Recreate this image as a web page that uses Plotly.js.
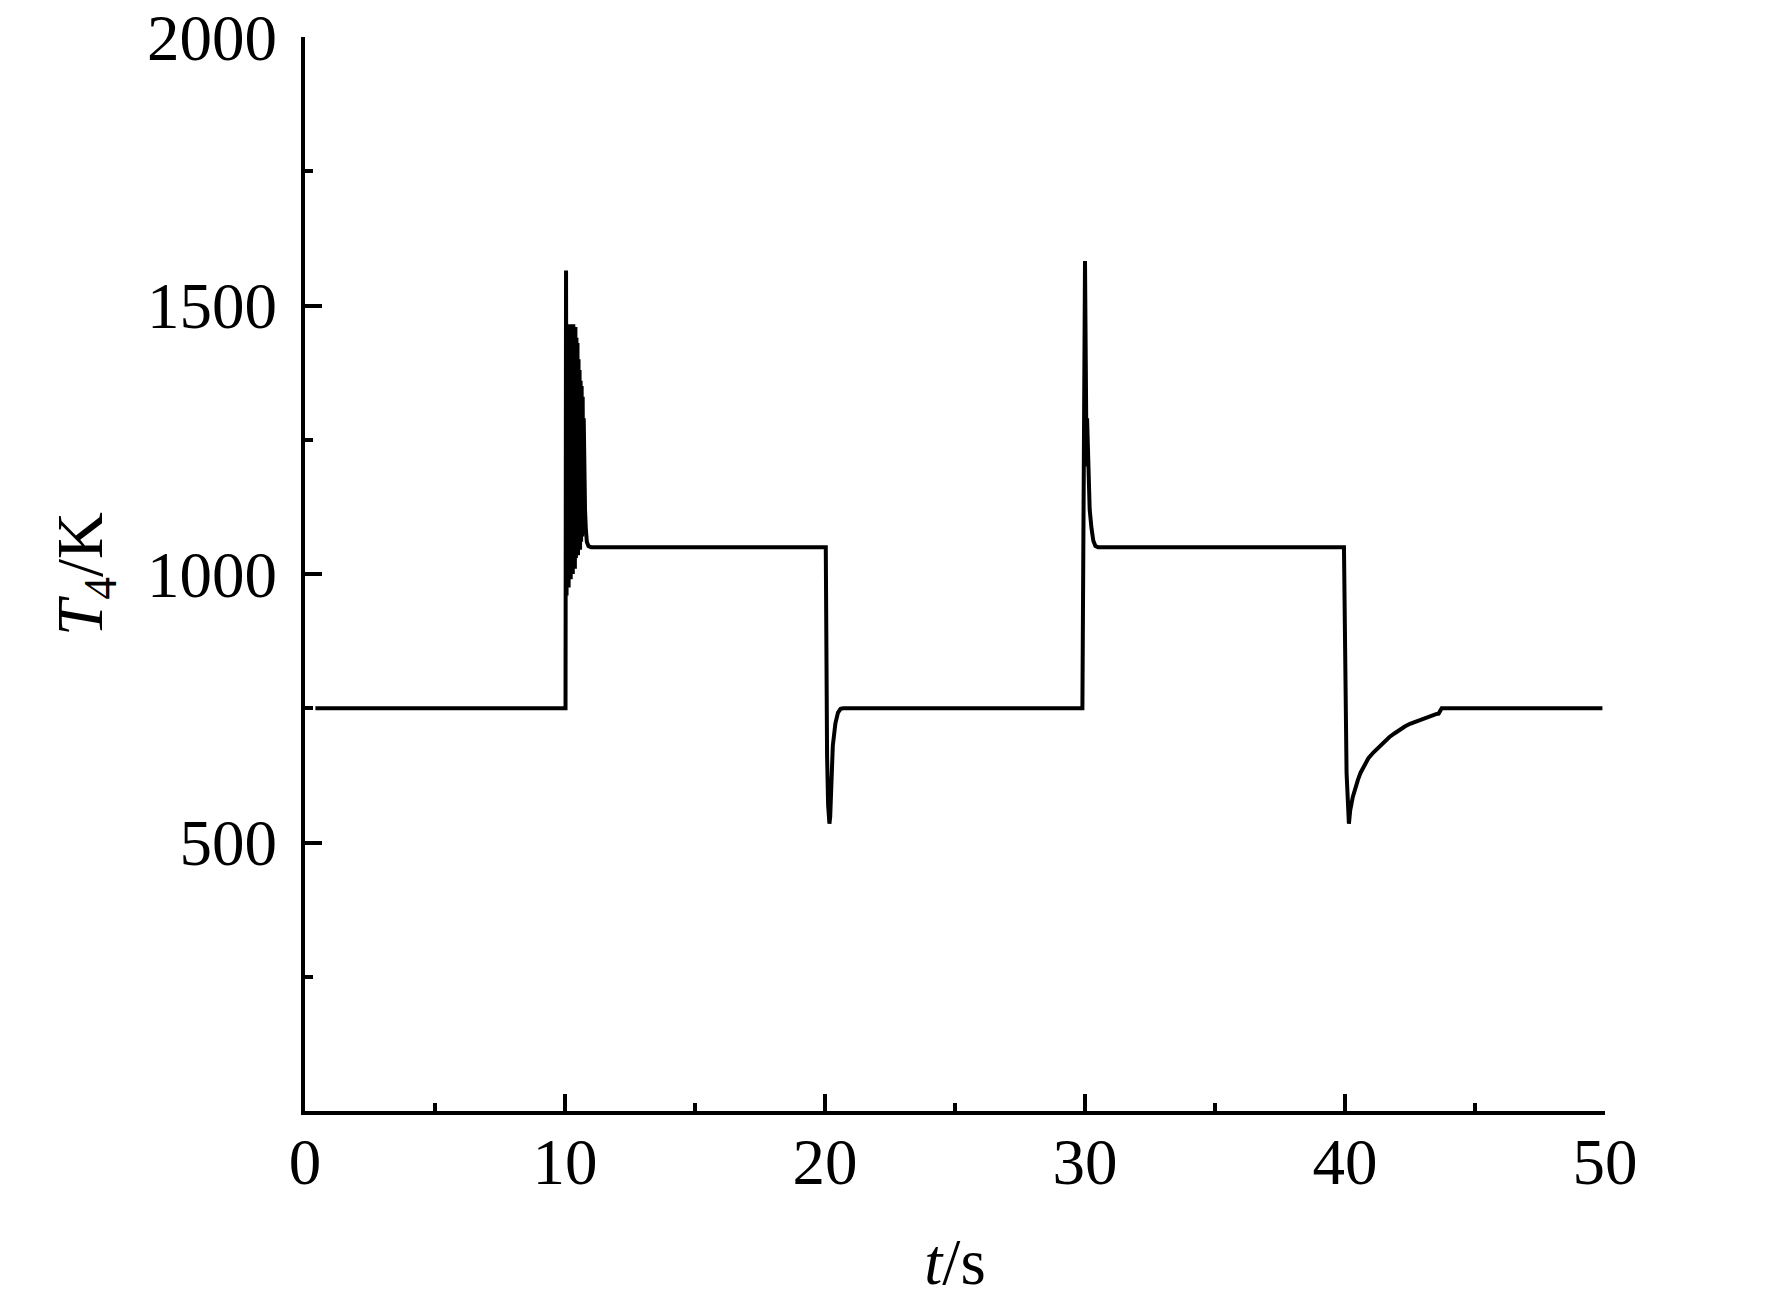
<!DOCTYPE html>
<html>
<head>
<meta charset="utf-8">
<script src="https://cdn.plot.ly/plotly-3.0.1.min.js"></script>
<style>html,body{margin:0;padding:0;background:#fff;}#chart{width:1772px;height:1298px;}</style>
</head>
<body>
<div id="chart"></div>
<script>
// Time (s) and turbine inlet temperature T4 (K)
const time = [
  0.4, 10.02, 10.04, 10.06, 10.08, 10.10, 10.12, 10.14, 10.16, 10.18, 10.20,
  10.22, 10.24, 10.26, 10.28, 10.30, 10.32, 10.34, 10.36, 10.38, 10.40,
  10.42, 10.44, 10.46, 10.48, 10.50, 10.52, 10.54, 10.56, 10.58, 10.60,
  10.62, 10.64, 10.66, 10.68, 10.70, 10.72, 10.74, 10.77, 10.80, 10.84,
  10.90, 11.0,
  20.03, 20.05, 20.08, 20.12, 20.17, 20.20, 20.25, 20.30, 20.40, 20.50, 20.60, 20.70,
  29.90, 29.92, 29.95, 30.00, 30.03, 30.06, 30.08, 30.12, 30.18, 30.25, 30.32, 30.40, 30.50,
  39.96, 40.01, 40.06, 40.15, 40.20, 40.30, 40.40, 40.50, 40.60, 40.75, 40.90, 41.10,
  41.30, 41.50, 41.70, 41.90, 42.10, 42.30, 42.50, 42.70, 42.90, 43.10, 43.30, 43.50,
  43.60, 43.66, 43.72, 49.9
];
const temperature = [
  750, 750, 1565, 960, 1440, 990, 1455, 975, 1465, 1000, 1460,
  990, 1465, 1010, 1455, 1000, 1465, 1020, 1450, 1010, 1460,
  1030, 1440, 1040, 1430, 1035, 1400, 1050, 1380, 1045, 1360,
  1060, 1350, 1070, 1330, 1090, 1290, 1150, 1120, 1085, 1060,
  1052, 1050,
  1050, 820, 660, 570, 535, 548, 620, 680, 722, 742, 749, 750,
  750, 845, 1165, 1583, 1300, 1200, 1290, 1180, 1120, 1085, 1062, 1052, 1050,
  1050, 800, 630, 535, 560, 585, 603, 617, 630, 645, 657, 668,
  678, 687, 696, 703, 710, 716, 721, 725, 729, 733, 736, 739,
  740, 745, 750, 750
];
const xTicks = [0, 10, 20, 30, 40, 50];
const yTicks = [500, 1000, 1500, 2000];

const font = 'Liberation Serif, Times New Roman, serif';

const trace = {
  x: time,
  y: temperature,
  type: 'scatter',
  mode: 'lines',
  line: {color: '#000', width: 4},
  showlegend: false,
  hoverinfo: 'skip'
};

const layout = {
  width: 1772,
  height: 1298,
  paper_bgcolor: '#fff',
  plot_bgcolor: '#fff',
  margin: {l: 305, r: 167, t: 37, b: 187, pad: 0},
  font: {family: font, size: 65, color: '#000'},
  xaxis: {
    range: [0, 50],
    tickmode: 'array',
    tickvals: xTicks,
    ticktext: xTicks.map(String),
    showline: true, linecolor: '#000', linewidth: 4,
    ticks: 'inside', ticklen: 17, tickwidth: 4, tickcolor: '#000',
    minor: {dtick: 5, tick0: 0, ticks: 'inside', ticklen: 8, tickwidth: 4, tickcolor: '#000', showgrid: false},
    showgrid: false, zeroline: false,
    tickfont: {family: font, size: 65, color: '#000'},
    ticklabelstandoff: -9,
    title: {text: '<i>t</i>/s', font: {family: font, size: 65, color: '#000'}, standoff: 57},
    automargin: false,
    fixedrange: true
  },
  yaxis: {
    range: [0, 2000],
    tickmode: 'array',
    tickvals: yTicks,
    ticktext: yTicks.map(String),
    showline: true, linecolor: '#000', linewidth: 4,
    ticks: 'inside', ticklen: 17, tickwidth: 4, tickcolor: '#000',
    minor: {dtick: 250, tick0: 0, ticks: 'inside', ticklen: 8, tickwidth: 4, tickcolor: '#000', showgrid: false},
    showgrid: false, zeroline: false,
    tickfont: {family: font, size: 65, color: '#000'},
    ticklabelstandoff: 11,
    title: {text: '<i>T</i><sub>4</sub>/K', font: {family: font, size: 65, color: '#000'}, standoff: 24},
    automargin: false,
    fixedrange: true
  }
};

Plotly.newPlot('chart', [trace], layout, {displayModeBar: false, staticPlot: true});
</script>
</body>
</html>
